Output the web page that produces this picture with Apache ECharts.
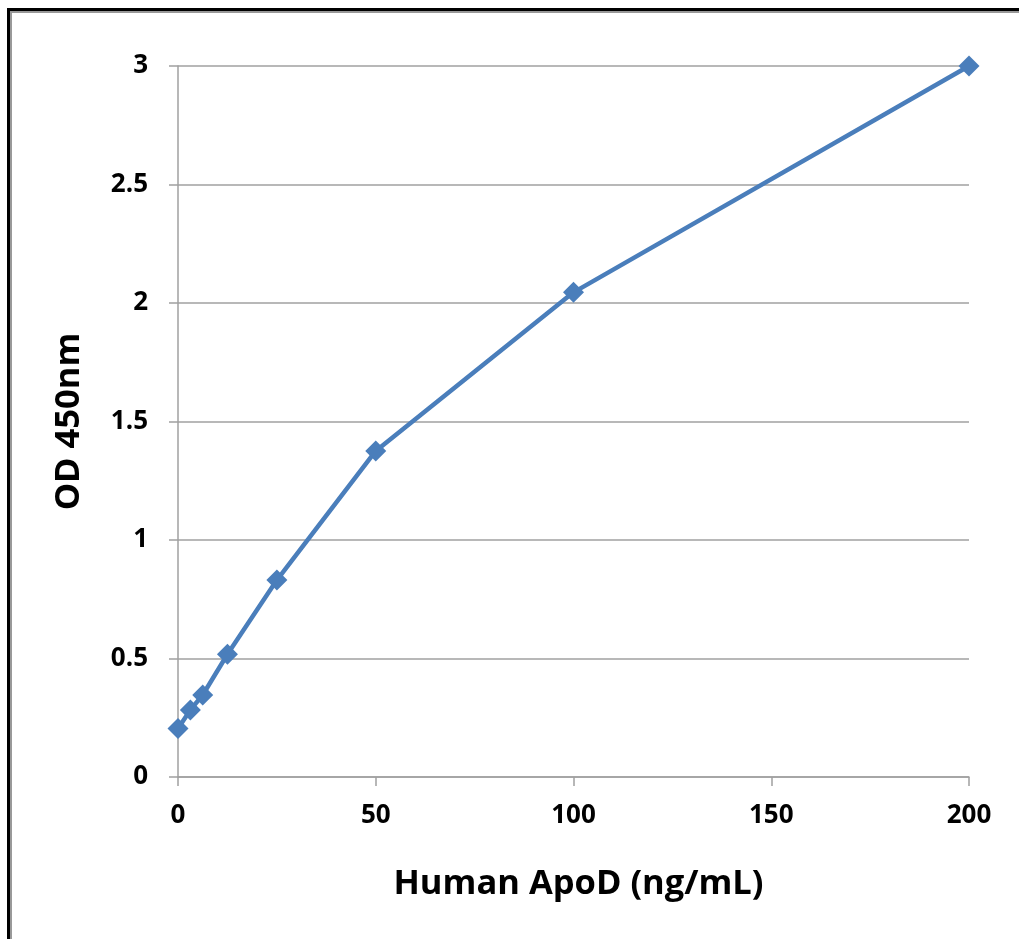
<!DOCTYPE html>
<html>
<head>
<meta charset="utf-8">
<script src="https://cdn.jsdelivr.net/npm/echarts@6/dist/echarts.min.js"></script>
<style>
html,body{margin:0;padding:0;background:#fff;}
#frame{position:absolute;left:7px;top:8px;width:1100px;height:1000px;border-left:3px solid #000;border-top:3px solid #000;}
#frame2{position:absolute;left:0;top:0;width:100%;height:100%;border-left:2px solid #999;border-top:2px solid #999;}
#chart{position:absolute;left:0;top:0;width:1019px;height:939px;}
</style>
</head>
<body>
<div id="chart"></div>
<div id="frame"><div id="frame2"></div></div>
<script>
var concentrations = [0, 3.125, 6.25, 12.5, 25, 50, 100, 200];
var odValues = [0.205, 0.283, 0.346, 0.518, 0.831, 1.376, 2.045, 3.0];
var xTitle = 'Human ApoD (ng/mL)';
var yTitle = 'OD 450nm';

var chart = echarts.init(document.getElementById('chart'));
var font = '"Open Sans", Lato, sans-serif';
chart.setOption({
  animation: false,
  backgroundColor: '#fff',
  grid: {left: 178, right: 50, top: 66, bottom: 162, containLabel: false},
  xAxis: {
    type: 'value', min: 0, max: 200, interval: 50,
    name: xTitle, nameLocation: 'middle', nameGap: 90,
    nameTextStyle: {fontFamily: font, fontWeight: 'bold', fontSize: 34.5, color: '#000', padding: [0, 0, 0, 10]},
    axisLine: {show: true, lineStyle: {color: '#a0a0a0', width: 1.5}},
    axisTick: {show: true, length: 9, lineStyle: {color: '#a0a0a0', width: 1.5}},
    axisLabel: {fontFamily: font, fontWeight: 'bold', fontSize: 26, color: '#000', margin: 26},
    splitLine: {show: false}
  },
  yAxis: {
    type: 'value', min: 0, max: 3, interval: 0.5,
    name: yTitle, nameLocation: 'middle', nameGap: 91, nameRotate: 90,
    nameTextStyle: {fontFamily: font, fontWeight: 'bold', fontSize: 34.5, color: '#000'},
    axisLine: {show: true, lineStyle: {color: '#a0a0a0', width: 1.5}},
    axisTick: {show: true, length: 9, lineStyle: {color: '#a0a0a0', width: 1.5}},
    axisLabel: {fontFamily: font, fontWeight: 'bold', fontSize: 26, color: '#000', margin: 30},
    splitLine: {show: true, lineStyle: {color: '#a0a0a0', width: 1.5}}
  },
  series: [{
    type: 'line',
    data: concentrations.map(function (c, i) { return [c, odValues[i]]; }),
    symbol: 'diamond', symbolSize: 21,
    lineStyle: {color: '#4a7ebb', width: 4.5},
    itemStyle: {color: '#4a7ebb'},
    z: 5
  }]
});
</script>
</body>
</html>
